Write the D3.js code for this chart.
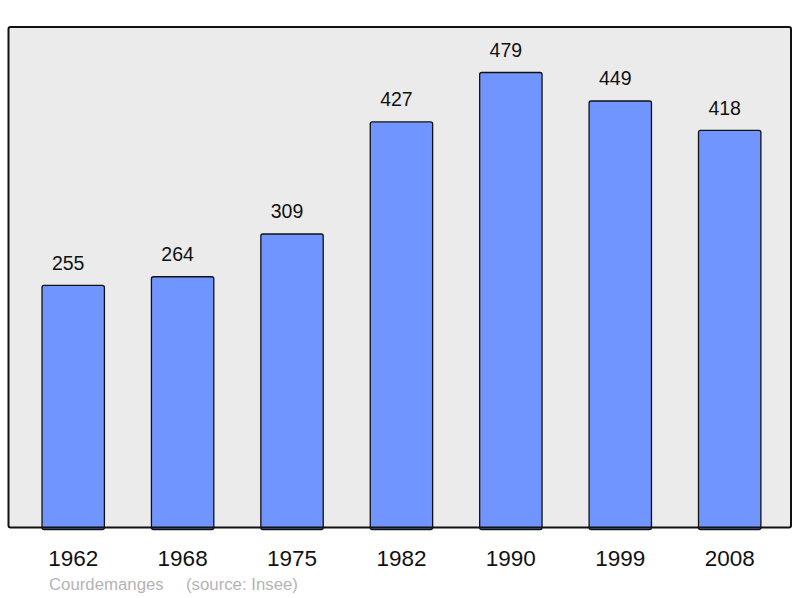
<!DOCTYPE html>
<html><head><meta charset="utf-8">
<script src="https://cdn.jsdelivr.net/npm/d3@7"></script>
<style>body{margin:0;background:#fff}svg{display:block}</style>
</head><body><svg id="c" width="800" height="598"></svg>
<script>
const years = ["1962","1968","1975","1982","1990","1999","2008"];
const population = [255,264,309,427,479,449,418];
const commune = "Courdemanges";
const source = "(source: Insee)";

const svg = d3.select("#c");
const plot = {x0: 8.5, x1: 791, y0: 27, y1: 527.5};
const x = d3.scaleBand().domain(years).range([18.5, 784.4]).paddingInner(0.43).paddingOuter(0.215);
const y = d3.scaleLinear().domain([0, d3.max(population) * 1.1]).range([plot.y1, plot.y0]);
const font = "'Liberation Sans', Arial, sans-serif";

svg.append("rect").attr("x", plot.x0).attr("y", plot.y0)
  .attr("width", plot.x1 - plot.x0).attr("height", plot.y1 - plot.y0)
  .attr("rx", 2).attr("fill", "#ebebeb");

svg.append("g").selectAll("rect").data(years).join("rect")
  .attr("x", d => x(d)).attr("y", (d, i) => y(population[i]))
  .attr("width", x.bandwidth()).attr("height", (d, i) => plot.y1 - y(population[i]) + 2)
  .attr("rx", 2).attr("fill", "#7095ff").attr("stroke", "#111").attr("stroke-width", 1.3);

svg.append("rect").attr("x", plot.x0).attr("y", plot.y0)
  .attr("width", plot.x1 - plot.x0).attr("height", plot.y1 - plot.y0)
  .attr("rx", 2).attr("fill", "none").attr("stroke", "#111").attr("stroke-width", 2);

svg.append("g").selectAll("text").data(years).join("text")
  .attr("x", d => x(d) + x.bandwidth() / 2 - 5).attr("y", (d, i) => y(population[i]) - 15.5)
  .attr("text-anchor", "middle").attr("font-family", font).attr("font-size", 19.5).attr("fill", "#111")
  .text((d, i) => population[i]);

const axis = d3.axisBottom(x).tickSize(0).tickPadding(0);
const ag = svg.append("g").attr("transform", `translate(0,${plot.y1})`).call(axis);
ag.select(".domain").remove();
ag.selectAll("text").attr("font-family", font).attr("font-size", 22.5).attr("fill", "#111")
  .attr("dy", null).attr("y", 38.5);

svg.append("text").attr("x", 49).attr("y", 590).attr("font-family", font).attr("font-size", 16.8)
  .attr("fill", "#b4b4b4").text(commune);
svg.append("text").attr("x", 186).attr("y", 590).attr("font-family", font).attr("font-size", 16.8)
  .attr("fill", "#b4b4b4").text(source);
</script></body></html>
